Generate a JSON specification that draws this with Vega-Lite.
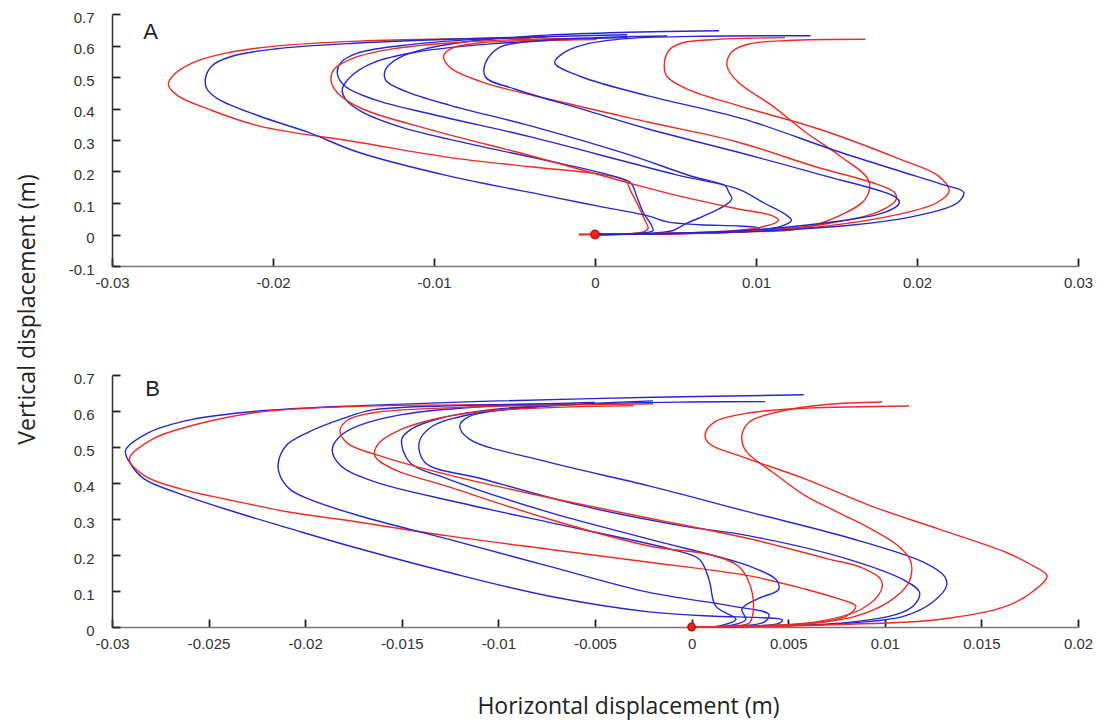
{
  "$schema": "https://vega.github.io/schema/vega-lite/v6.json",
  "background": "white",
  "padding": {"left": 16, "top": 10, "right": 5, "bottom": 2},
  "config": {
    "view": {"stroke": null},
    "axis": {"domainColor": "#555", "domainWidth": 1.5, "tickColor": "#222", "tickWidth": 1.8, "labelColor": "#333", "labelFont": "Liberation Sans", "labelFontSize": 15, "grid": false, "labelFlush": false, "labelOverlap": false}
  },
  "datasets": {
    "marks": [{"p": "A", "x": 0, "y": 0}, {"p": "B", "x": 0, "y": 0}],
    "labels": [{"p": "A", "x": -0.0276, "y": 0.643, "t": "A"}, {"p": "B", "x": -0.0279, "y": 0.662, "t": "B"}],
    "curves": [
      {"p":"A","c":"R1","k":"r","i":0,"x":-0.001,"y":0},
      {"p":"A","c":"R1","k":"r","i":1,"x":0.0015,"y":0.002},
      {"p":"A","c":"R1","k":"r","i":2,"x":0.003,"y":0.008},
      {"p":"A","c":"R1","k":"r","i":3,"x":0.0033,"y":0.02},
      {"p":"A","c":"R1","k":"r","i":4,"x":0.0031,"y":0.045},
      {"p":"A","c":"R1","k":"r","i":5,"x":0.0027,"y":0.09},
      {"p":"A","c":"R1","k":"r","i":6,"x":0.0022,"y":0.14},
      {"p":"A","c":"R1","k":"r","i":7,"x":0.0019,"y":0.17},
      {"p":"A","c":"R1","k":"r","i":8,"x":0.0005,"y":0.19},
      {"p":"A","c":"R1","k":"r","i":9,"x":-0.004,"y":0.215},
      {"p":"A","c":"R1","k":"r","i":10,"x":-0.0091,"y":0.245},
      {"p":"A","c":"R1","k":"r","i":11,"x":-0.0147,"y":0.293},
      {"p":"A","c":"R1","k":"r","i":12,"x":-0.0209,"y":0.345},
      {"p":"A","c":"R1","k":"r","i":13,"x":-0.024,"y":0.398},
      {"p":"A","c":"R1","k":"r","i":14,"x":-0.0259,"y":0.44},
      {"p":"A","c":"R1","k":"r","i":15,"x":-0.0265,"y":0.475},
      {"p":"A","c":"R1","k":"r","i":16,"x":-0.0262,"y":0.505},
      {"p":"A","c":"R1","k":"r","i":17,"x":-0.025,"y":0.545},
      {"p":"A","c":"R1","k":"r","i":18,"x":-0.023,"y":0.575},
      {"p":"A","c":"R1","k":"r","i":19,"x":-0.0199,"y":0.598},
      {"p":"A","c":"R1","k":"r","i":20,"x":-0.0147,"y":0.614},
      {"p":"A","c":"R1","k":"r","i":21,"x":-0.009,"y":0.621},
      {"p":"A","c":"R1","k":"r","i":22,"x":-0.004,"y":0.623},

      {"p":"A","c":"B3","k":"b","i":0,"x":0,"y":0},
      {"p":"A","c":"B3","k":"b","i":1,"x":0.0025,"y":0.003},
      {"p":"A","c":"B3","k":"b","i":2,"x":0.0036,"y":0.012},
      {"p":"A","c":"B3","k":"b","i":3,"x":0.0035,"y":0.03},
      {"p":"A","c":"B3","k":"b","i":4,"x":0.003,"y":0.07},
      {"p":"A","c":"B3","k":"b","i":5,"x":0.0026,"y":0.12},
      {"p":"A","c":"B3","k":"b","i":6,"x":0.0022,"y":0.165},
      {"p":"A","c":"B3","k":"b","i":7,"x":0.0008,"y":0.19},
      {"p":"A","c":"B3","k":"b","i":8,"x":-0.003,"y":0.235},
      {"p":"A","c":"B3","k":"b","i":9,"x":-0.008,"y":0.29},
      {"p":"A","c":"B3","k":"b","i":10,"x":-0.012,"y":0.34},
      {"p":"A","c":"B3","k":"b","i":11,"x":-0.0145,"y":0.39},
      {"p":"A","c":"B3","k":"b","i":12,"x":-0.0155,"y":0.43},
      {"p":"A","c":"B3","k":"b","i":13,"x":-0.0157,"y":0.46},
      {"p":"A","c":"B3","k":"b","i":14,"x":-0.0152,"y":0.5},
      {"p":"A","c":"B3","k":"b","i":15,"x":-0.0138,"y":0.545},
      {"p":"A","c":"B3","k":"b","i":16,"x":-0.011,"y":0.58},
      {"p":"A","c":"B3","k":"b","i":17,"x":-0.0065,"y":0.605},
      {"p":"A","c":"B3","k":"b","i":18,"x":-0.002,"y":0.618},
      {"p":"A","c":"B3","k":"b","i":19,"x":0.002,"y":0.625},

      {"p":"A","c":"B1","k":"b","i":0,"x":0,"y":0},
      {"p":"A","c":"B1","k":"b","i":1,"x":0.004,"y":0.002},
      {"p":"A","c":"B1","k":"b","i":2,"x":0.008,"y":0.006},
      {"p":"A","c":"B1","k":"b","i":3,"x":0.0098,"y":0.012},
      {"p":"A","c":"B1","k":"b","i":4,"x":0.0102,"y":0.02},
      {"p":"A","c":"B1","k":"b","i":5,"x":0.009,"y":0.027},
      {"p":"A","c":"B1","k":"b","i":6,"x":0.0065,"y":0.031},
      {"p":"A","c":"B1","k":"b","i":7,"x":0.0045,"y":0.04},
      {"p":"A","c":"B1","k":"b","i":8,"x":0.0033,"y":0.059},
      {"p":"A","c":"B1","k":"b","i":9,"x":0.0002,"y":0.09},
      {"p":"A","c":"B1","k":"b","i":10,"x":-0.0029,"y":0.122},
      {"p":"A","c":"B1","k":"b","i":11,"x":-0.0091,"y":0.186},
      {"p":"A","c":"B1","k":"b","i":12,"x":-0.0147,"y":0.261},
      {"p":"A","c":"B1","k":"b","i":13,"x":-0.0178,"y":0.324},
      {"p":"A","c":"B1","k":"b","i":14,"x":-0.0209,"y":0.377},
      {"p":"A","c":"B1","k":"b","i":15,"x":-0.0234,"y":0.43},
      {"p":"A","c":"B1","k":"b","i":16,"x":-0.0241,"y":0.462},
      {"p":"A","c":"B1","k":"b","i":17,"x":-0.0242,"y":0.494},
      {"p":"A","c":"B1","k":"b","i":18,"x":-0.0238,"y":0.535},
      {"p":"A","c":"B1","k":"b","i":19,"x":-0.0226,"y":0.565},
      {"p":"A","c":"B1","k":"b","i":20,"x":-0.0199,"y":0.589},
      {"p":"A","c":"B1","k":"b","i":21,"x":-0.0147,"y":0.608},
      {"p":"A","c":"B1","k":"b","i":22,"x":-0.009,"y":0.62},
      {"p":"A","c":"B1","k":"b","i":23,"x":-0.003,"y":0.628},

      {"p":"A","c":"B2","k":"b","i":0,"x":0,"y":0},
      {"p":"A","c":"B2","k":"b","i":1,"x":0.005,"y":0.003},
      {"p":"A","c":"B2","k":"b","i":2,"x":0.009,"y":0.01},
      {"p":"A","c":"B2","k":"b","i":3,"x":0.0115,"y":0.025},
      {"p":"A","c":"B2","k":"b","i":4,"x":0.0122,"y":0.045},
      {"p":"A","c":"B2","k":"b","i":5,"x":0.0118,"y":0.065},
      {"p":"A","c":"B2","k":"b","i":6,"x":0.0105,"y":0.1},
      {"p":"A","c":"B2","k":"b","i":7,"x":0.0089,"y":0.144},
      {"p":"A","c":"B2","k":"b","i":8,"x":0.005,"y":0.19},
      {"p":"A","c":"B2","k":"b","i":9,"x":0.002,"y":0.23},
      {"p":"A","c":"B2","k":"b","i":10,"x":-0.004,"y":0.31},
      {"p":"A","c":"B2","k":"b","i":11,"x":-0.01,"y":0.38},
      {"p":"A","c":"B2","k":"b","i":12,"x":-0.0138,"y":0.43},
      {"p":"A","c":"B2","k":"b","i":13,"x":-0.0155,"y":0.47},
      {"p":"A","c":"B2","k":"b","i":14,"x":-0.016,"y":0.51},
      {"p":"A","c":"B2","k":"b","i":15,"x":-0.0158,"y":0.545},
      {"p":"A","c":"B2","k":"b","i":16,"x":-0.0148,"y":0.575},
      {"p":"A","c":"B2","k":"b","i":17,"x":-0.012,"y":0.6},
      {"p":"A","c":"B2","k":"b","i":18,"x":-0.008,"y":0.618},
      {"p":"A","c":"B2","k":"b","i":19,"x":-0.003,"y":0.628},
      {"p":"A","c":"B2","k":"b","i":20,"x":0.002,"y":0.634},

      {"p":"A","c":"B4","k":"b","i":0,"x":0,"y":0},
      {"p":"A","c":"B4","k":"b","i":1,"x":0.003,"y":0.003},
      {"p":"A","c":"B4","k":"b","i":2,"x":0.0048,"y":0.012},
      {"p":"A","c":"B4","k":"b","i":3,"x":0.0056,"y":0.033},
      {"p":"A","c":"B4","k":"b","i":4,"x":0.0068,"y":0.06},
      {"p":"A","c":"B4","k":"b","i":5,"x":0.008,"y":0.09},
      {"p":"A","c":"B4","k":"b","i":6,"x":0.0085,"y":0.113},
      {"p":"A","c":"B4","k":"b","i":7,"x":0.0083,"y":0.135},
      {"p":"A","c":"B4","k":"b","i":8,"x":0.0081,"y":0.154},
      {"p":"A","c":"B4","k":"b","i":9,"x":0.006,"y":0.185},
      {"p":"A","c":"B4","k":"b","i":10,"x":0.002,"y":0.255},
      {"p":"A","c":"B4","k":"b","i":11,"x":-0.004,"y":0.345},
      {"p":"A","c":"B4","k":"b","i":12,"x":-0.009,"y":0.41},
      {"p":"A","c":"B4","k":"b","i":13,"x":-0.0118,"y":0.455},
      {"p":"A","c":"B4","k":"b","i":14,"x":-0.013,"y":0.49},
      {"p":"A","c":"B4","k":"b","i":15,"x":-0.013,"y":0.525},
      {"p":"A","c":"B4","k":"b","i":16,"x":-0.0122,"y":0.56},
      {"p":"A","c":"B4","k":"b","i":17,"x":-0.0105,"y":0.59},
      {"p":"A","c":"B4","k":"b","i":18,"x":-0.0075,"y":0.615},
      {"p":"A","c":"B4","k":"b","i":19,"x":-0.003,"y":0.633},
      {"p":"A","c":"B4","k":"b","i":20,"x":0.002,"y":0.642},
      {"p":"A","c":"B4","k":"b","i":21,"x":0.0077,"y":0.647},

      {"p":"A","c":"R2","k":"r","i":0,"x":-0.001,"y":0},
      {"p":"A","c":"R2","k":"r","i":1,"x":0.003,"y":0.002},
      {"p":"A","c":"R2","k":"r","i":2,"x":0.007,"y":0.008},
      {"p":"A","c":"R2","k":"r","i":3,"x":0.0102,"y":0.022},
      {"p":"A","c":"R2","k":"r","i":4,"x":0.0114,"y":0.045},
      {"p":"A","c":"R2","k":"r","i":5,"x":0.011,"y":0.06},
      {"p":"A","c":"R2","k":"r","i":6,"x":0.0089,"y":0.081},
      {"p":"A","c":"R2","k":"r","i":7,"x":0.005,"y":0.125},
      {"p":"A","c":"R2","k":"r","i":8,"x":0.002,"y":0.165},
      {"p":"A","c":"R2","k":"r","i":9,"x":-0.004,"y":0.25},
      {"p":"A","c":"R2","k":"r","i":10,"x":-0.01,"y":0.33},
      {"p":"A","c":"R2","k":"r","i":11,"x":-0.0145,"y":0.4},
      {"p":"A","c":"R2","k":"r","i":12,"x":-0.016,"y":0.45},
      {"p":"A","c":"R2","k":"r","i":13,"x":-0.0164,"y":0.49},
      {"p":"A","c":"R2","k":"r","i":14,"x":-0.0162,"y":0.525},
      {"p":"A","c":"R2","k":"r","i":15,"x":-0.015,"y":0.56},
      {"p":"A","c":"R2","k":"r","i":16,"x":-0.0125,"y":0.59},
      {"p":"A","c":"R2","k":"r","i":17,"x":-0.0085,"y":0.61},
      {"p":"A","c":"R2","k":"r","i":18,"x":-0.004,"y":0.62},
      {"p":"A","c":"R2","k":"r","i":19,"x":-0.001,"y":0.622},

      {"p":"A","c":"R3","k":"r","i":0,"x":0,"y":0},
      {"p":"A","c":"R3","k":"r","i":1,"x":0.005,"y":0.004},
      {"p":"A","c":"R3","k":"r","i":2,"x":0.01,"y":0.012},
      {"p":"A","c":"R3","k":"r","i":3,"x":0.0145,"y":0.035},
      {"p":"A","c":"R3","k":"r","i":4,"x":0.0175,"y":0.07},
      {"p":"A","c":"R3","k":"r","i":5,"x":0.0187,"y":0.11},
      {"p":"A","c":"R3","k":"r","i":6,"x":0.0186,"y":0.134},
      {"p":"A","c":"R3","k":"r","i":7,"x":0.0175,"y":0.16},
      {"p":"A","c":"R3","k":"r","i":8,"x":0.0137,"y":0.215},
      {"p":"A","c":"R3","k":"r","i":9,"x":0.0089,"y":0.293},
      {"p":"A","c":"R3","k":"r","i":10,"x":0.0033,"y":0.357},
      {"p":"A","c":"R3","k":"r","i":11,"x":-0.0029,"y":0.43},
      {"p":"A","c":"R3","k":"r","i":12,"x":-0.007,"y":0.484},
      {"p":"A","c":"R3","k":"r","i":13,"x":-0.009,"y":0.53},
      {"p":"A","c":"R3","k":"r","i":14,"x":-0.0094,"y":0.568},
      {"p":"A","c":"R3","k":"r","i":15,"x":-0.0088,"y":0.593},
      {"p":"A","c":"R3","k":"r","i":16,"x":-0.0072,"y":0.608},
      {"p":"A","c":"R3","k":"r","i":17,"x":-0.004,"y":0.616},
      {"p":"A","c":"R3","k":"r","i":18,"x":0.0001,"y":0.619},

      {"p":"A","c":"R4","k":"r","i":0,"x":-0.001,"y":0},
      {"p":"A","c":"R4","k":"r","i":1,"x":0.004,"y":0.002},
      {"p":"A","c":"R4","k":"r","i":2,"x":0.009,"y":0.008},
      {"p":"A","c":"R4","k":"r","i":3,"x":0.014,"y":0.025},
      {"p":"A","c":"R4","k":"r","i":4,"x":0.018,"y":0.055},
      {"p":"A","c":"R4","k":"r","i":5,"x":0.0212,"y":0.1},
      {"p":"A","c":"R4","k":"r","i":6,"x":0.022,"y":0.139},
      {"p":"A","c":"R4","k":"r","i":7,"x":0.0213,"y":0.187},
      {"p":"A","c":"R4","k":"r","i":8,"x":0.0189,"y":0.24},
      {"p":"A","c":"R4","k":"r","i":9,"x":0.0139,"y":0.335},
      {"p":"A","c":"R4","k":"r","i":10,"x":0.0089,"y":0.409},
      {"p":"A","c":"R4","k":"r","i":11,"x":0.0058,"y":0.46},
      {"p":"A","c":"R4","k":"r","i":12,"x":0.0045,"y":0.5},
      {"p":"A","c":"R4","k":"r","i":13,"x":0.0043,"y":0.535},
      {"p":"A","c":"R4","k":"r","i":14,"x":0.0046,"y":0.585},
      {"p":"A","c":"R4","k":"r","i":15,"x":0.0054,"y":0.608},
      {"p":"A","c":"R4","k":"r","i":16,"x":0.0075,"y":0.619},
      {"p":"A","c":"R4","k":"r","i":17,"x":0.0095,"y":0.623},
      {"p":"A","c":"R4","k":"r","i":18,"x":0.0118,"y":0.625},

      {"p":"A","c":"R5","k":"r","i":0,"x":0,"y":0},
      {"p":"A","c":"R5","k":"r","i":1,"x":0.004,"y":0.002},
      {"p":"A","c":"R5","k":"r","i":2,"x":0.009,"y":0.008},
      {"p":"A","c":"R5","k":"r","i":3,"x":0.0126,"y":0.017},
      {"p":"A","c":"R5","k":"r","i":4,"x":0.0152,"y":0.06},
      {"p":"A","c":"R5","k":"r","i":5,"x":0.0168,"y":0.113},
      {"p":"A","c":"R5","k":"r","i":6,"x":0.017,"y":0.171},
      {"p":"A","c":"R5","k":"r","i":7,"x":0.0152,"y":0.25},
      {"p":"A","c":"R5","k":"r","i":8,"x":0.0131,"y":0.324},
      {"p":"A","c":"R5","k":"r","i":9,"x":0.011,"y":0.409},
      {"p":"A","c":"R5","k":"r","i":10,"x":0.0089,"y":0.483},
      {"p":"A","c":"R5","k":"r","i":11,"x":0.0082,"y":0.535},
      {"p":"A","c":"R5","k":"r","i":12,"x":0.0085,"y":0.58},
      {"p":"A","c":"R5","k":"r","i":13,"x":0.0095,"y":0.604},
      {"p":"A","c":"R5","k":"r","i":14,"x":0.012,"y":0.616},
      {"p":"A","c":"R5","k":"r","i":15,"x":0.0168,"y":0.62},

      {"p":"A","c":"Bc","k":"b","i":0,"x":0,"y":0},
      {"p":"A","c":"Bc","k":"b","i":1,"x":0.004,"y":0.003},
      {"p":"A","c":"Bc","k":"b","i":2,"x":0.009,"y":0.012},
      {"p":"A","c":"Bc","k":"b","i":3,"x":0.014,"y":0.035},
      {"p":"A","c":"Bc","k":"b","i":4,"x":0.018,"y":0.07},
      {"p":"A","c":"Bc","k":"b","i":5,"x":0.0189,"y":0.1},
      {"p":"A","c":"Bc","k":"b","i":6,"x":0.0187,"y":0.118},
      {"p":"A","c":"Bc","k":"b","i":7,"x":0.014,"y":0.19},
      {"p":"A","c":"Bc","k":"b","i":8,"x":0.0089,"y":0.261},
      {"p":"A","c":"Bc","k":"b","i":9,"x":0.0033,"y":0.335},
      {"p":"A","c":"Bc","k":"b","i":10,"x":-0.0008,"y":0.398},
      {"p":"A","c":"Bc","k":"b","i":11,"x":-0.005,"y":0.462},
      {"p":"A","c":"Bc","k":"b","i":12,"x":-0.0068,"y":0.5},
      {"p":"A","c":"Bc","k":"b","i":13,"x":-0.0068,"y":0.545},
      {"p":"A","c":"Bc","k":"b","i":14,"x":-0.0059,"y":0.595},
      {"p":"A","c":"Bc","k":"b","i":15,"x":-0.0035,"y":0.615},
      {"p":"A","c":"Bc","k":"b","i":16,"x":0,"y":0.625},
      {"p":"A","c":"Bc","k":"b","i":17,"x":0.0045,"y":0.63},

      {"p":"A","c":"Bd","k":"b","i":0,"x":0,"y":0},
      {"p":"A","c":"Bd","k":"b","i":1,"x":0.005,"y":0.003},
      {"p":"A","c":"Bd","k":"b","i":2,"x":0.01,"y":0.01},
      {"p":"A","c":"Bd","k":"b","i":3,"x":0.016,"y":0.03},
      {"p":"A","c":"Bd","k":"b","i":4,"x":0.02,"y":0.06},
      {"p":"A","c":"Bd","k":"b","i":5,"x":0.0225,"y":0.1},
      {"p":"A","c":"Bd","k":"b","i":6,"x":0.0229,"y":0.134},
      {"p":"A","c":"Bd","k":"b","i":7,"x":0.0215,"y":0.16},
      {"p":"A","c":"Bd","k":"b","i":8,"x":0.019,"y":0.2},
      {"p":"A","c":"Bd","k":"b","i":9,"x":0.015,"y":0.265},
      {"p":"A","c":"Bd","k":"b","i":10,"x":0.0092,"y":0.367},
      {"p":"A","c":"Bd","k":"b","i":11,"x":0.0033,"y":0.44},
      {"p":"A","c":"Bd","k":"b","i":12,"x":-0.0008,"y":0.5},
      {"p":"A","c":"Bd","k":"b","i":13,"x":-0.0025,"y":0.545},
      {"p":"A","c":"Bd","k":"b","i":14,"x":-0.002,"y":0.575},
      {"p":"A","c":"Bd","k":"b","i":15,"x":-0.0005,"y":0.605},
      {"p":"A","c":"Bd","k":"b","i":16,"x":0.002,"y":0.622},
      {"p":"A","c":"Bd","k":"b","i":17,"x":0.006,"y":0.629},
      {"p":"A","c":"Bd","k":"b","i":18,"x":0.0134,"y":0.631},

      {"p":"B","c":"BB1","k":"b","i":0,"x":0,"y":0},
      {"p":"B","c":"BB1","k":"b","i":1,"x":0.003,"y":0.003},
      {"p":"B","c":"BB1","k":"b","i":2,"x":0.0045,"y":0.01},
      {"p":"B","c":"BB1","k":"b","i":3,"x":0.0047,"y":0.02},
      {"p":"B","c":"BB1","k":"b","i":4,"x":0.0035,"y":0.026},
      {"p":"B","c":"BB1","k":"b","i":5,"x":0.0012,"y":0.03},
      {"p":"B","c":"BB1","k":"b","i":6,"x":-0.0022,"y":0.042},
      {"p":"B","c":"BB1","k":"b","i":7,"x":-0.0074,"y":0.086},
      {"p":"B","c":"BB1","k":"b","i":8,"x":-0.0126,"y":0.152},
      {"p":"B","c":"BB1","k":"b","i":9,"x":-0.0177,"y":0.225},
      {"p":"B","c":"BB1","k":"b","i":10,"x":-0.0207,"y":0.272},
      {"p":"B","c":"BB1","k":"b","i":11,"x":-0.0241,"y":0.327},
      {"p":"B","c":"BB1","k":"b","i":12,"x":-0.0267,"y":0.374},
      {"p":"B","c":"BB1","k":"b","i":13,"x":-0.0283,"y":0.41},
      {"p":"B","c":"BB1","k":"b","i":14,"x":-0.029,"y":0.45},
      {"p":"B","c":"BB1","k":"b","i":15,"x":-0.0293,"y":0.49},
      {"p":"B","c":"BB1","k":"b","i":16,"x":-0.0281,"y":0.54},
      {"p":"B","c":"BB1","k":"b","i":17,"x":-0.0259,"y":0.576},
      {"p":"B","c":"BB1","k":"b","i":18,"x":-0.0224,"y":0.6},
      {"p":"B","c":"BB1","k":"b","i":19,"x":-0.0172,"y":0.615},
      {"p":"B","c":"BB1","k":"b","i":20,"x":-0.01,"y":0.628},
      {"p":"B","c":"BB1","k":"b","i":21,"x":-0.002,"y":0.638},
      {"p":"B","c":"BB1","k":"b","i":22,"x":0.0058,"y":0.645},

      {"p":"B","c":"RB1","k":"r","i":0,"x":0,"y":0},
      {"p":"B","c":"RB1","k":"r","i":1,"x":0.003,"y":0.002},
      {"p":"B","c":"RB1","k":"r","i":2,"x":0.006,"y":0.01},
      {"p":"B","c":"RB1","k":"r","i":3,"x":0.008,"y":0.03},
      {"p":"B","c":"RB1","k":"r","i":4,"x":0.0085,"y":0.058},
      {"p":"B","c":"RB1","k":"r","i":5,"x":0.0075,"y":0.08},
      {"p":"B","c":"RB1","k":"r","i":6,"x":0.0059,"y":0.105},
      {"p":"B","c":"RB1","k":"r","i":7,"x":0.003,"y":0.142},
      {"p":"B","c":"RB1","k":"r","i":8,"x":-0.0022,"y":0.18},
      {"p":"B","c":"RB1","k":"r","i":9,"x":-0.0074,"y":0.216},
      {"p":"B","c":"RB1","k":"r","i":10,"x":-0.0126,"y":0.253},
      {"p":"B","c":"RB1","k":"r","i":11,"x":-0.0177,"y":0.295},
      {"p":"B","c":"RB1","k":"r","i":12,"x":-0.0207,"y":0.318},
      {"p":"B","c":"RB1","k":"r","i":13,"x":-0.0241,"y":0.355},
      {"p":"B","c":"RB1","k":"r","i":14,"x":-0.0264,"y":0.383},
      {"p":"B","c":"RB1","k":"r","i":15,"x":-0.0283,"y":0.42},
      {"p":"B","c":"RB1","k":"r","i":16,"x":-0.0291,"y":0.467},
      {"p":"B","c":"RB1","k":"r","i":17,"x":-0.0279,"y":0.522},
      {"p":"B","c":"RB1","k":"r","i":18,"x":-0.0259,"y":0.559},
      {"p":"B","c":"RB1","k":"r","i":19,"x":-0.0224,"y":0.597},
      {"p":"B","c":"RB1","k":"r","i":20,"x":-0.0172,"y":0.613},
      {"p":"B","c":"RB1","k":"r","i":21,"x":-0.012,"y":0.617},
      {"p":"B","c":"RB1","k":"r","i":22,"x":-0.008,"y":0.616},

      {"p":"B","c":"BB2","k":"b","i":0,"x":0,"y":0},
      {"p":"B","c":"BB2","k":"b","i":1,"x":0.0025,"y":0.003},
      {"p":"B","c":"BB2","k":"b","i":2,"x":0.0038,"y":0.015},
      {"p":"B","c":"BB2","k":"b","i":3,"x":0.004,"y":0.035},
      {"p":"B","c":"BB2","k":"b","i":4,"x":0.0021,"y":0.058},
      {"p":"B","c":"BB2","k":"b","i":5,"x":-0.0022,"y":0.096},
      {"p":"B","c":"BB2","k":"b","i":6,"x":-0.0074,"y":0.169},
      {"p":"B","c":"BB2","k":"b","i":7,"x":-0.0126,"y":0.244},
      {"p":"B","c":"BB2","k":"b","i":8,"x":-0.0172,"y":0.309},
      {"p":"B","c":"BB2","k":"b","i":9,"x":-0.0198,"y":0.355},
      {"p":"B","c":"BB2","k":"b","i":10,"x":-0.0208,"y":0.383},
      {"p":"B","c":"BB2","k":"b","i":11,"x":-0.0213,"y":0.42},
      {"p":"B","c":"BB2","k":"b","i":12,"x":-0.0214,"y":0.453},
      {"p":"B","c":"BB2","k":"b","i":13,"x":-0.021,"y":0.503},
      {"p":"B","c":"BB2","k":"b","i":14,"x":-0.0198,"y":0.542},
      {"p":"B","c":"BB2","k":"b","i":15,"x":-0.0181,"y":0.578},
      {"p":"B","c":"BB2","k":"b","i":16,"x":-0.0165,"y":0.603},
      {"p":"B","c":"BB2","k":"b","i":17,"x":-0.012,"y":0.615},
      {"p":"B","c":"BB2","k":"b","i":18,"x":-0.007,"y":0.62},

      {"p":"B","c":"BB3","k":"b","i":0,"x":0,"y":0},
      {"p":"B","c":"BB3","k":"b","i":1,"x":0.0015,"y":0.004},
      {"p":"B","c":"BB3","k":"b","i":2,"x":0.0023,"y":0.021},
      {"p":"B","c":"BB3","k":"b","i":3,"x":0.00125,"y":0.058},
      {"p":"B","c":"BB3","k":"b","i":4,"x":0.0009,"y":0.132},
      {"p":"B","c":"BB3","k":"b","i":5,"x":0.0004,"y":0.188},
      {"p":"B","c":"BB3","k":"b","i":6,"x":-0.001,"y":0.215},
      {"p":"B","c":"BB3","k":"b","i":7,"x":-0.006,"y":0.275},
      {"p":"B","c":"BB3","k":"b","i":8,"x":-0.012,"y":0.345},
      {"p":"B","c":"BB3","k":"b","i":9,"x":-0.0165,"y":0.405},
      {"p":"B","c":"BB3","k":"b","i":10,"x":-0.0182,"y":0.45},
      {"p":"B","c":"BB3","k":"b","i":11,"x":-0.0186,"y":0.494},
      {"p":"B","c":"BB3","k":"b","i":12,"x":-0.0182,"y":0.53},
      {"p":"B","c":"BB3","k":"b","i":13,"x":-0.0172,"y":0.56},
      {"p":"B","c":"BB3","k":"b","i":14,"x":-0.015,"y":0.59},
      {"p":"B","c":"BB3","k":"b","i":15,"x":-0.011,"y":0.612},
      {"p":"B","c":"BB3","k":"b","i":16,"x":-0.005,"y":0.624},

      {"p":"B","c":"BB4","k":"b","i":0,"x":0,"y":0},
      {"p":"B","c":"BB4","k":"b","i":1,"x":0.002,"y":0.004},
      {"p":"B","c":"BB4","k":"b","i":2,"x":0.0028,"y":0.02},
      {"p":"B","c":"BB4","k":"b","i":3,"x":0.0026,"y":0.05},
      {"p":"B","c":"BB4","k":"b","i":4,"x":0.0035,"y":0.08},
      {"p":"B","c":"BB4","k":"b","i":5,"x":0.0045,"y":0.104},
      {"p":"B","c":"BB4","k":"b","i":6,"x":0.0044,"y":0.13},
      {"p":"B","c":"BB4","k":"b","i":7,"x":0.003,"y":0.169},
      {"p":"B","c":"BB4","k":"b","i":8,"x":-0.0022,"y":0.244},
      {"p":"B","c":"BB4","k":"b","i":9,"x":-0.0074,"y":0.319},
      {"p":"B","c":"BB4","k":"b","i":10,"x":-0.0126,"y":0.411},
      {"p":"B","c":"BB4","k":"b","i":11,"x":-0.0146,"y":0.458},
      {"p":"B","c":"BB4","k":"b","i":12,"x":-0.015,"y":0.522},
      {"p":"B","c":"BB4","k":"b","i":13,"x":-0.0145,"y":0.55},
      {"p":"B","c":"BB4","k":"b","i":14,"x":-0.013,"y":0.58},
      {"p":"B","c":"BB4","k":"b","i":15,"x":-0.0105,"y":0.603},
      {"p":"B","c":"BB4","k":"b","i":16,"x":-0.006,"y":0.62},

      {"p":"B","c":"BB5","k":"b","i":0,"x":0,"y":0},
      {"p":"B","c":"BB5","k":"b","i":1,"x":0.004,"y":0.003},
      {"p":"B","c":"BB5","k":"b","i":2,"x":0.008,"y":0.012},
      {"p":"B","c":"BB5","k":"b","i":3,"x":0.0106,"y":0.035},
      {"p":"B","c":"BB5","k":"b","i":4,"x":0.0115,"y":0.06},
      {"p":"B","c":"BB5","k":"b","i":5,"x":0.0118,"y":0.096},
      {"p":"B","c":"BB5","k":"b","i":6,"x":0.011,"y":0.13},
      {"p":"B","c":"BB5","k":"b","i":7,"x":0.008,"y":0.19},
      {"p":"B","c":"BB5","k":"b","i":8,"x":0.003,"y":0.253},
      {"p":"B","c":"BB5","k":"b","i":9,"x":-0.0005,"y":0.281},
      {"p":"B","c":"BB5","k":"b","i":10,"x":-0.0057,"y":0.337},
      {"p":"B","c":"BB5","k":"b","i":11,"x":-0.0108,"y":0.411},
      {"p":"B","c":"BB5","k":"b","i":12,"x":-0.0138,"y":0.457},
      {"p":"B","c":"BB5","k":"b","i":13,"x":-0.0141,"y":0.513},
      {"p":"B","c":"BB5","k":"b","i":14,"x":-0.0135,"y":0.555},
      {"p":"B","c":"BB5","k":"b","i":15,"x":-0.0115,"y":0.59},
      {"p":"B","c":"BB5","k":"b","i":16,"x":-0.008,"y":0.612},
      {"p":"B","c":"BB5","k":"b","i":17,"x":-0.002,"y":0.628},

      {"p":"B","c":"BB6","k":"b","i":0,"x":0,"y":0},
      {"p":"B","c":"BB6","k":"b","i":1,"x":0.004,"y":0.003},
      {"p":"B","c":"BB6","k":"b","i":2,"x":0.008,"y":0.01},
      {"p":"B","c":"BB6","k":"b","i":3,"x":0.011,"y":0.03},
      {"p":"B","c":"BB6","k":"b","i":4,"x":0.0125,"y":0.07},
      {"p":"B","c":"BB6","k":"b","i":5,"x":0.0132,"y":0.115},
      {"p":"B","c":"BB6","k":"b","i":6,"x":0.0131,"y":0.14},
      {"p":"B","c":"BB6","k":"b","i":7,"x":0.012,"y":0.18},
      {"p":"B","c":"BB6","k":"b","i":8,"x":0.008,"y":0.25},
      {"p":"B","c":"BB6","k":"b","i":9,"x":0.003,"y":0.319},
      {"p":"B","c":"BB6","k":"b","i":10,"x":-0.0022,"y":0.392},
      {"p":"B","c":"BB6","k":"b","i":11,"x":-0.0074,"y":0.458},
      {"p":"B","c":"BB6","k":"b","i":12,"x":-0.0115,"y":0.522},
      {"p":"B","c":"BB6","k":"b","i":13,"x":-0.012,"y":0.559},
      {"p":"B","c":"BB6","k":"b","i":14,"x":-0.0115,"y":0.585},
      {"p":"B","c":"BB6","k":"b","i":15,"x":-0.009,"y":0.607},
      {"p":"B","c":"BB6","k":"b","i":16,"x":-0.005,"y":0.62},
      {"p":"B","c":"BB6","k":"b","i":17,"x":0,"y":0.625},
      {"p":"B","c":"BB6","k":"b","i":18,"x":0.0038,"y":0.626},

      {"p":"B","c":"RB2","k":"r","i":0,"x":0,"y":0},
      {"p":"B","c":"RB2","k":"r","i":1,"x":0.003,"y":0.003},
      {"p":"B","c":"RB2","k":"r","i":2,"x":0.0065,"y":0.015},
      {"p":"B","c":"RB2","k":"r","i":3,"x":0.0088,"y":0.05},
      {"p":"B","c":"RB2","k":"r","i":4,"x":0.0098,"y":0.1},
      {"p":"B","c":"RB2","k":"r","i":5,"x":0.0098,"y":0.132},
      {"p":"B","c":"RB2","k":"r","i":6,"x":0.0088,"y":0.165},
      {"p":"B","c":"RB2","k":"r","i":7,"x":0.007,"y":0.19},
      {"p":"B","c":"RB2","k":"r","i":8,"x":0.003,"y":0.245},
      {"p":"B","c":"RB2","k":"r","i":9,"x":-0.002,"y":0.3},
      {"p":"B","c":"RB2","k":"r","i":10,"x":-0.007,"y":0.355},
      {"p":"B","c":"RB2","k":"r","i":11,"x":-0.012,"y":0.415},
      {"p":"B","c":"RB2","k":"r","i":12,"x":-0.0158,"y":0.47},
      {"p":"B","c":"RB2","k":"r","i":13,"x":-0.0178,"y":0.51},
      {"p":"B","c":"RB2","k":"r","i":14,"x":-0.0182,"y":0.545},
      {"p":"B","c":"RB2","k":"r","i":15,"x":-0.0178,"y":0.575},
      {"p":"B","c":"RB2","k":"r","i":16,"x":-0.0165,"y":0.595},
      {"p":"B","c":"RB2","k":"r","i":17,"x":-0.012,"y":0.61},
      {"p":"B","c":"RB2","k":"r","i":18,"x":-0.006,"y":0.617},
      {"p":"B","c":"RB2","k":"r","i":19,"x":-0.002,"y":0.62},

      {"p":"B","c":"RB3","k":"r","i":0,"x":0,"y":0},
      {"p":"B","c":"RB3","k":"r","i":1,"x":0.002,"y":0.003},
      {"p":"B","c":"RB3","k":"r","i":2,"x":0.003,"y":0.012},
      {"p":"B","c":"RB3","k":"r","i":3,"x":0.0032,"y":0.05},
      {"p":"B","c":"RB3","k":"r","i":4,"x":0.003,"y":0.12},
      {"p":"B","c":"RB3","k":"r","i":5,"x":0.0024,"y":0.17},
      {"p":"B","c":"RB3","k":"r","i":6,"x":0.001,"y":0.2},
      {"p":"B","c":"RB3","k":"r","i":7,"x":-0.0022,"y":0.225},
      {"p":"B","c":"RB3","k":"r","i":8,"x":-0.0074,"y":0.3},
      {"p":"B","c":"RB3","k":"r","i":9,"x":-0.0126,"y":0.39},
      {"p":"B","c":"RB3","k":"r","i":10,"x":-0.0155,"y":0.44},
      {"p":"B","c":"RB3","k":"r","i":11,"x":-0.0164,"y":0.476},
      {"p":"B","c":"RB3","k":"r","i":12,"x":-0.0162,"y":0.51},
      {"p":"B","c":"RB3","k":"r","i":13,"x":-0.0152,"y":0.545},
      {"p":"B","c":"RB3","k":"r","i":14,"x":-0.0135,"y":0.575},
      {"p":"B","c":"RB3","k":"r","i":15,"x":-0.011,"y":0.598},
      {"p":"B","c":"RB3","k":"r","i":16,"x":-0.007,"y":0.61},
      {"p":"B","c":"RB3","k":"r","i":17,"x":-0.003,"y":0.615},

      {"p":"B","c":"RB4","k":"r","i":0,"x":0,"y":0},
      {"p":"B","c":"RB4","k":"r","i":1,"x":0.004,"y":0.002},
      {"p":"B","c":"RB4","k":"r","i":2,"x":0.0076,"y":0.007},
      {"p":"B","c":"RB4","k":"r","i":3,"x":0.0128,"y":0.021},
      {"p":"B","c":"RB4","k":"r","i":4,"x":0.0163,"y":0.058},
      {"p":"B","c":"RB4","k":"r","i":5,"x":0.0177,"y":0.1},
      {"p":"B","c":"RB4","k":"r","i":6,"x":0.0184,"y":0.142},
      {"p":"B","c":"RB4","k":"r","i":7,"x":0.0175,"y":0.175},
      {"p":"B","c":"RB4","k":"r","i":8,"x":0.0163,"y":0.207},
      {"p":"B","c":"RB4","k":"r","i":9,"x":0.0128,"y":0.272},
      {"p":"B","c":"RB4","k":"r","i":10,"x":0.0093,"y":0.336},
      {"p":"B","c":"RB4","k":"r","i":11,"x":0.0059,"y":0.411},
      {"p":"B","c":"RB4","k":"r","i":12,"x":0.00245,"y":0.476},
      {"p":"B","c":"RB4","k":"r","i":13,"x":0.0009,"y":0.51},
      {"p":"B","c":"RB4","k":"r","i":14,"x":0.0007,"y":0.535},
      {"p":"B","c":"RB4","k":"r","i":15,"x":0.0012,"y":0.57},
      {"p":"B","c":"RB4","k":"r","i":16,"x":0.003,"y":0.595},
      {"p":"B","c":"RB4","k":"r","i":17,"x":0.006,"y":0.608},
      {"p":"B","c":"RB4","k":"r","i":18,"x":0.01125,"y":0.614},

      {"p":"B","c":"RB5","k":"r","i":0,"x":0,"y":0},
      {"p":"B","c":"RB5","k":"r","i":1,"x":0.003,"y":0.002},
      {"p":"B","c":"RB5","k":"r","i":2,"x":0.006,"y":0.008},
      {"p":"B","c":"RB5","k":"r","i":3,"x":0.0085,"y":0.03},
      {"p":"B","c":"RB5","k":"r","i":4,"x":0.0102,"y":0.07},
      {"p":"B","c":"RB5","k":"r","i":5,"x":0.0112,"y":0.12},
      {"p":"B","c":"RB5","k":"r","i":6,"x":0.0114,"y":0.16},
      {"p":"B","c":"RB5","k":"r","i":7,"x":0.0113,"y":0.188},
      {"p":"B","c":"RB5","k":"r","i":8,"x":0.0107,"y":0.225},
      {"p":"B","c":"RB5","k":"r","i":9,"x":0.0093,"y":0.272},
      {"p":"B","c":"RB5","k":"r","i":10,"x":0.0076,"y":0.318},
      {"p":"B","c":"RB5","k":"r","i":11,"x":0.0059,"y":0.364},
      {"p":"B","c":"RB5","k":"r","i":12,"x":0.0042,"y":0.43},
      {"p":"B","c":"RB5","k":"r","i":13,"x":0.0028,"y":0.49},
      {"p":"B","c":"RB5","k":"r","i":14,"x":0.0026,"y":0.531},
      {"p":"B","c":"RB5","k":"r","i":15,"x":0.003,"y":0.57},
      {"p":"B","c":"RB5","k":"r","i":16,"x":0.0045,"y":0.598},
      {"p":"B","c":"RB5","k":"r","i":17,"x":0.007,"y":0.618},
      {"p":"B","c":"RB5","k":"r","i":18,"x":0.00986,"y":0.625}
    ]
  },
  "spacing": 109,
  "bounds": "flush",
  "vconcat": [
    {
      "width": 966,
      "height": 252,
      "encoding": {
        "x": {"field": "x", "type": "quantitative", "scale": {"domain": [-0.03, 0.03], "nice": false, "zero": false},
          "axis": {"values": [-0.03, -0.02, -0.01, 0, 0.01, 0.02, 0.03], "labelExpr": "'' + datum.value", "title": null, "tickSize": -8, "labelPadding": 17, "domainColor": "#777"}},
        "y": {"field": "y", "type": "quantitative", "scale": {"domain": [-0.1, 0.7], "nice": false, "zero": false},
          "axis": {"values": [-0.1, 0, 0.1, 0.2, 0.3, 0.4, 0.5, 0.6, 0.7], "labelExpr": "'' + datum.value", "tickSize": -8, "labelPadding": 26, "labelOffset": 3, "domainColor": "#333",
            "title": "Vertical displacement (m)", "titleX": -85, "titleY": 295, "titleAngle": 270, "titleAlign": "center", "titleBaseline": "middle", "titleFont": "Open Sans", "titleFontSize": 23, "titleFontWeight": "normal", "titleColor": "#222"}}
      },
      "layer": [
        {"data": {"name": "curves"}, "transform": [{"filter": "datum.p === 'A'"}],
          "mark": {"type": "line", "interpolate": "catmull-rom", "strokeWidth": 1.4},
          "encoding": {"detail": {"field": "c", "type": "nominal"}, "order": {"field": "i", "type": "quantitative"},
            "color": {"field": "k", "type": "nominal", "scale": {"domain": ["r", "b"], "range": ["#ee2a22", "#2626d8"]}, "legend": null}}},
        {"data": {"name": "marks"}, "transform": [{"filter": "datum.p === 'A'"}],
          "mark": {"type": "point", "shape": "circle", "filled": true, "fill": "#ee2222", "stroke": "#c41010", "strokeWidth": 1.5, "size": 70, "opacity": 1}},
        {"data": {"name": "labels"}, "transform": [{"filter": "datum.p === 'A'"}],
          "mark": {"type": "text", "font": "Liberation Sans", "fontSize": 22, "color": "#222", "align": "center", "baseline": "middle"},
          "encoding": {"text": {"field": "t", "type": "nominal"}}}
      ]
    },
    {
      "width": 966,
      "height": 252,
      "encoding": {
        "x": {"field": "x", "type": "quantitative", "scale": {"domain": [-0.03, 0.02], "nice": false, "zero": false},
          "axis": {"values": [-0.03, -0.025, -0.02, -0.015, -0.01, -0.005, 0, 0.005, 0.01, 0.015, 0.02], "labelExpr": "'' + datum.value", "tickSize": -8, "labelPadding": 17, "domainColor": "#777",
            "title": "Horizontal displacement (m)", "titleX": 516, "titleY": 79, "titleAngle": 0, "titleAlign": "center", "titleBaseline": "middle", "titleFont": "Open Sans", "titleFontSize": 23, "titleFontWeight": "normal", "titleColor": "#222"}},
        "y": {"field": "y", "type": "quantitative", "scale": {"domain": [0, 0.7], "nice": false, "zero": false},
          "axis": {"values": [0, 0.1, 0.2, 0.3, 0.4, 0.5, 0.6, 0.7], "labelExpr": "'' + datum.value", "tickSize": -8, "labelPadding": 26, "labelOffset": 3, "domainColor": "#333", "title": null}}
      },
      "layer": [
        {"data": {"name": "curves"}, "transform": [{"filter": "datum.p === 'B'"}],
          "mark": {"type": "line", "interpolate": "catmull-rom", "strokeWidth": 1.4},
          "encoding": {"detail": {"field": "c", "type": "nominal"}, "order": {"field": "i", "type": "quantitative"},
            "color": {"field": "k", "type": "nominal", "scale": {"domain": ["r", "b"], "range": ["#ee2a22", "#2626d8"]}, "legend": null}}},
        {"data": {"name": "marks"}, "transform": [{"filter": "datum.p === 'B'"}],
          "mark": {"type": "point", "shape": "circle", "filled": true, "fill": "#ee2222", "stroke": "#c41010", "strokeWidth": 1.5, "size": 55, "opacity": 1}},
        {"data": {"name": "labels"}, "transform": [{"filter": "datum.p === 'B'"}],
          "mark": {"type": "text", "font": "Liberation Sans", "fontSize": 22, "color": "#222", "align": "center", "baseline": "middle"},
          "encoding": {"text": {"field": "t", "type": "nominal"}}}
      ]
    }
  ]
}
